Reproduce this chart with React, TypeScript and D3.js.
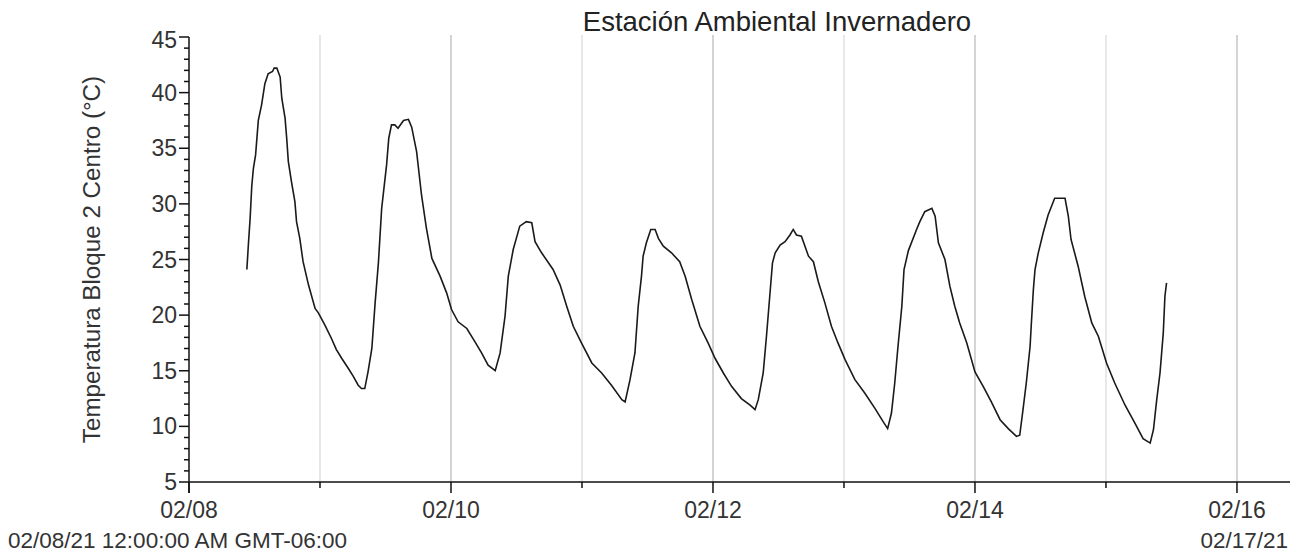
import { useEffect, useRef } from "react";
import * as d3 from "d3";

const chartTitle = "Estación Ambiental Invernadero";
const yLabel = "Temperatura Bloque 2 Centro (°C)";
const startLabel = "02/08/21 12:00:00 AM GMT-06:00";
const endLabel = "02/17/21";

// hours elapsed since 02/08/21 00:00
const elapsedHours = [
  10.6, 10.9, 11.2, 11.5, 11.8, 12.2, 12.7, 13.3, 13.9, 14.5, 15.3, 15.6, 16.1, 16.7, 17.0, 17.6,
  17.9, 18.2, 18.8, 19.4, 19.7, 20.3, 20.9, 21.9, 23.1, 23.7, 24.9, 26.1, 27.0, 28.0, 29.2, 30.1,
  31.0, 31.6, 32.2, 32.8, 33.5, 34.1, 34.7, 35.3, 36.2, 36.6, 37.1, 37.7, 38.3, 39.3, 40.2, 40.8,
  41.7, 42.6, 43.5, 44.5, 46.0, 47.2, 48.1, 49.3, 50.9, 52.4, 53.6, 54.8, 56.1, 57.0, 57.9, 58.5,
  59.4, 60.6, 61.8, 62.8, 63.4, 64.6, 66.7, 68.0, 69.2, 70.4, 71.9, 73.8, 75.6, 77.4, 79.3, 79.9,
  80.8, 81.7, 82.3, 82.9, 83.2, 83.8, 84.6, 85.4, 86.0, 86.9, 88.4, 89.9, 90.9, 92.1, 93.6, 95.1,
  96.4, 97.9, 99.4, 101.2, 102.8, 103.7, 104.3, 105.2, 105.8, 106.4, 106.9, 107.4, 108.3, 109.2,
  110.1, 110.7, 111.3, 112.2, 113.5, 114.4, 115.3, 116.5, 117.7, 118.9, 120.2, 122.0, 123.8, 125.7,
  127.2, 128.0, 128.7, 129.3, 129.9, 130.6, 131.0, 131.8, 133.3, 133.9, 134.8, 136.1, 136.7, 137.3,
  138.5, 139.4, 140.3, 141.2, 142.5, 144.0, 145.5, 147.0, 148.6, 150.1, 151.6, 152.2, 152.8, 153.4,
  154.1, 154.3, 154.7, 155.0, 155.6, 156.5, 157.4, 158.6, 160.5, 161.1, 161.6, 162.9, 164.1, 165.4,
  166.6, 168.1, 169.6, 171.5, 173.3, 174.8, 176.1, 176.7, 177.3, 177.9, 178.5, 178.8, 179.1,
];

const temperatures = [
  24.1, 26.5, 28.7, 31.6, 33.2, 34.4, 37.5, 38.9, 40.8, 41.7, 41.9, 42.2, 42.2, 41.4, 39.5, 37.7,
  35.9, 33.8, 31.9, 30.2, 28.4, 26.9, 24.8, 22.7, 20.6, 20.2, 19.1, 17.9, 16.9, 16.1, 15.2, 14.5,
  13.7, 13.4, 13.4, 14.9, 17.0, 21.1, 24.7, 29.6, 33.5, 35.9, 37.1, 37.1, 36.8, 37.5, 37.6, 36.9,
  34.7, 30.8, 27.8, 25.1, 23.5, 22.0, 20.5, 19.4, 18.8, 17.6, 16.6, 15.5, 15.0, 16.6, 19.9, 23.5,
  25.9, 28.0, 28.4, 28.3, 26.6, 25.6, 24.1, 22.7, 20.8, 19.0, 17.5, 15.7, 14.8, 13.7, 12.4, 12.2,
  14.2, 16.6, 20.8, 23.5, 25.3, 26.5, 27.7, 27.7, 26.9, 26.2, 25.6, 24.8, 23.5, 21.4, 19.0, 17.5,
  16.1, 14.8, 13.6, 12.5, 11.9, 11.5, 12.4, 14.8, 18.1, 21.7, 24.7, 25.6, 26.3, 26.6,
  27.2, 27.7, 27.2, 27.1, 25.3, 24.8, 23.0, 21.1, 19.0, 17.5, 16.0, 14.2, 13.0, 11.6,
  10.4, 9.8, 11.2, 13.9, 17.2, 20.8, 24.1, 25.8, 27.7, 28.4, 29.3, 29.6, 28.9, 26.5,
  25.0, 22.6, 20.8, 19.3, 17.5, 14.9, 13.6, 12.2, 10.6, 9.8, 9.1, 9.2, 11.5, 13.9,
  17.2, 19.0, 22.3, 24.1, 25.6, 27.4, 29.0, 30.5, 30.5, 28.9, 26.8, 24.4, 21.7, 19.3,
  18.1, 15.7, 13.9, 11.9, 10.3, 8.9, 8.5, 9.7, 12.4, 14.8, 18.4, 21.7, 22.9,
];

const yMajorTicks = [5, 10, 15, 20, 25, 30, 35, 40, 45];

const WIDTH = 1298;
const HEIGHT = 552;
const FONT = "'Liberation Sans', Arial, sans-serif";

export default function App() {
  const svgRef = useRef<SVGSVGElement | null>(null);

  useEffect(() => {
    if (!svgRef.current) return;
    const margin = { top: 37, right: 8, bottom: 70, left: 189 };
    const start = new Date(2021, 1, 8, 0, 0);
    const end = new Date(2021, 1, 16, 9, 43);

    const x = d3
      .scaleTime()
      .domain([start, end])
      .range([margin.left, WIDTH - margin.right]);
    const y = d3
      .scaleLinear()
      .domain([5, 45])
      .range([HEIGHT - margin.bottom, margin.top]);

    const points = elapsedHours.map((h, i) => ({
      time: new Date(start.getTime() + h * 3600 * 1000),
      value: temperatures[i],
    }));

    const svg = d3.select(svgRef.current);
    svg.selectAll("*").remove();
    svg.attr("width", WIDTH).attr("height", HEIGHT).style("background", "#fff");

    const days = d3.timeDay.range(start, end);
    const isMajor = (d: Date) => Math.round((d.getTime() - start.getTime()) / 864e5) % 2 === 0;
    const y0 = y(5);
    const y1 = y(45);

    // vertical grid
    svg
      .append("g")
      .selectAll("line")
      .data(days.filter((d) => d > start))
      .join("line")
      .attr("x1", (d) => x(d))
      .attr("x2", (d) => x(d))
      .attr("y1", y1 - 2)
      .attr("y2", y0)
      .attr("stroke", (d) => (isMajor(d) ? "#c6c6c6" : "#e0e0e0"))
      .attr("stroke-width", 1.5);

    // series
    const line = d3
      .line<{ time: Date; value: number }>()
      .x((d) => x(d.time))
      .y((d) => y(d.value));
    svg
      .append("path")
      .datum(points)
      .attr("d", line)
      .attr("fill", "none")
      .attr("stroke", "#1a1a1a")
      .attr("stroke-width", 1.6);

    // x axis
    const xAxis = svg.append("g");
    xAxis
      .append("line")
      .attr("x1", margin.left)
      .attr("x2", WIDTH - margin.right)
      .attr("y1", y0)
      .attr("y2", y0)
      .attr("stroke", "#111")
      .attr("stroke-width", 1.5);
    xAxis
      .selectAll("line.tick")
      .data(days)
      .join("line")
      .attr("class", "tick")
      .attr("x1", (d) => x(d))
      .attr("x2", (d) => x(d))
      .attr("y1", y0)
      .attr("y2", (d) => y0 + (isMajor(d) ? 11 : 6))
      .attr("stroke", "#111")
      .attr("stroke-width", 1.5);
    xAxis
      .selectAll("text")
      .data(days.filter(isMajor))
      .join("text")
      .attr("x", (d) => x(d))
      .attr("y", 518)
      .attr("text-anchor", "middle")
      .attr("font-family", FONT)
      .attr("font-size", 23)
      .attr("fill", "#333")
      .text((d) => d3.timeFormat("%m/%d")(d));

    // y axis
    const yAxis = svg.append("g");
    yAxis
      .append("line")
      .attr("x1", margin.left)
      .attr("x2", margin.left)
      .attr("y1", y1)
      .attr("y2", y0 + 11)
      .attr("stroke", "#111")
      .attr("stroke-width", 1.5);
    yAxis
      .selectAll("line.minor")
      .data(d3.range(5, 46, 1))
      .join("line")
      .attr("class", "minor")
      .attr("x1", margin.left)
      .attr("x2", (d) => margin.left - (d % 5 === 0 ? 10 : 5))
      .attr("y1", (d) => y(d))
      .attr("y2", (d) => y(d))
      .attr("stroke", "#111")
      .attr("stroke-width", 1.5);
    yAxis
      .selectAll("text")
      .data(yMajorTicks)
      .join("text")
      .attr("x", margin.left - 12)
      .attr("y", (d) => y(d) + (d === 45 ? 3 : 0))
      .attr("dy", "0.35em")
      .attr("text-anchor", "end")
      .attr("font-family", FONT)
      .attr("font-size", 23)
      .attr("fill", "#333")
      .text((d) => String(d));

    // labels
    svg
      .append("text")
      .attr("transform", `translate(100,${(y0 + y1) / 2}) rotate(-90)`)
      .attr("text-anchor", "middle")
      .attr("font-family", FONT)
      .attr("font-size", 24.2)
      .attr("fill", "#333")
      .text(yLabel);

    svg
      .append("text")
      .attr("x", 777)
      .attr("y", 30.5)
      .attr("text-anchor", "middle")
      .attr("font-family", FONT)
      .attr("font-size", 27.5)
      .attr("fill", "#222")
      .text(chartTitle);

    svg
      .append("text")
      .attr("x", 8)
      .attr("y", 548)
      .attr("font-family", FONT)
      .attr("font-size", 22.5)
      .attr("fill", "#333")
      .text(startLabel);

    svg
      .append("text")
      .attr("x", 1288)
      .attr("y", 548)
      .attr("text-anchor", "end")
      .attr("font-family", FONT)
      .attr("font-size", 22.5)
      .attr("fill", "#333")
      .text(endLabel);
  }, []);

  return (
    <div style={{ position: "absolute", left: 0, top: 0, width: WIDTH, height: HEIGHT }}>
      <svg ref={svgRef} style={{ display: "block" }} />
    </div>
  );
}
